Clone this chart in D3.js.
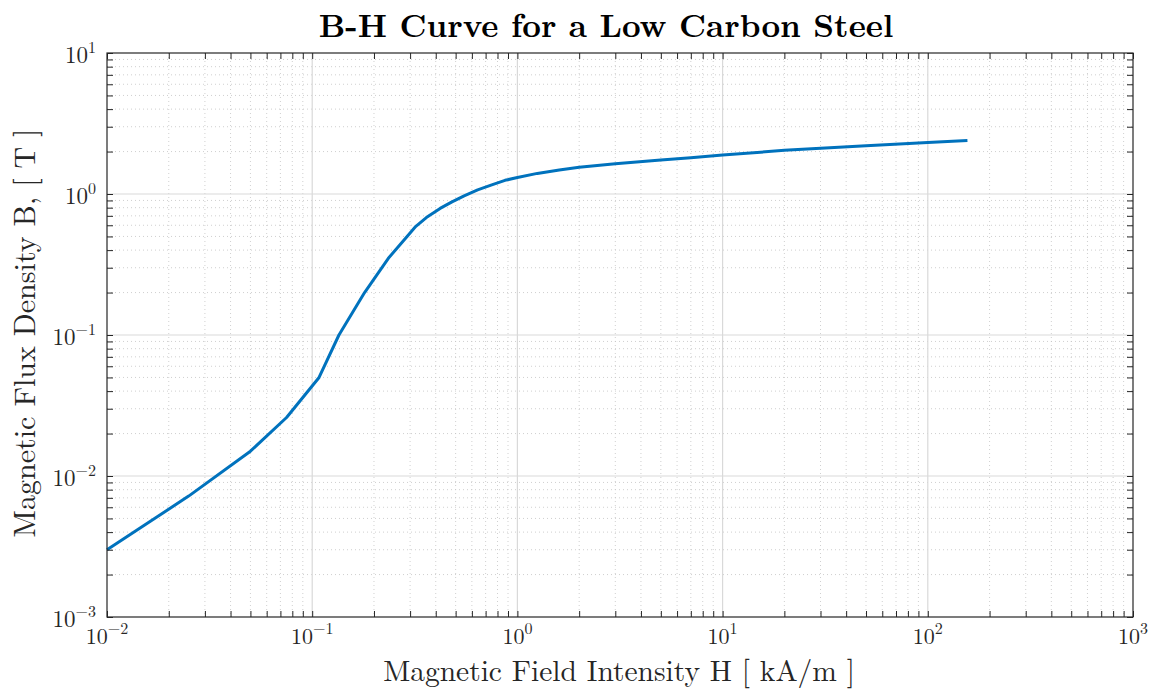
<!DOCTYPE html>
<html><head><meta charset="utf-8">
<script src="https://cdn.jsdelivr.net/npm/d3@7"></script>
<style>
body{margin:0;background:#fff;}
text{font-family:"Latin Modern Roman","Liberation Serif","Times New Roman",serif;fill:#262626;}
</style></head>
<body><svg id="c" width="1156" height="689"></svg>
<script>
const H = [0.01, 0.025, 0.05, 0.075, 0.108, 0.135, 0.18, 0.235, 0.29, 0.32, 0.36, 0.42, 0.48, 0.55, 0.64, 0.75, 0.87, 1.0, 1.25, 1.6, 2.0, 3.0, 5, 7, 10, 20, 50, 100, 156];
const B = [0.003, 0.0072, 0.015, 0.026, 0.05, 0.1, 0.2, 0.35, 0.5, 0.59, 0.68, 0.79, 0.88, 0.97, 1.07, 1.16, 1.25, 1.31, 1.4, 1.48, 1.55, 1.64, 1.74, 1.81, 1.89, 2.04, 2.2, 2.32, 2.4];
const xTickExps = [-2, -1, 0, 1, 2, 3];
const yTickExps = [-3, -2, -1, 0, 1];
const titleText = "B-H Curve for a Low Carbon Steel";
const xLabelText = "Magnetic Field Intensity H [ kA/m ]";
const yLabelText = "Magnetic Flux Density B, [ T ]";

const svg = d3.select("#c");
const L = 107, R = 1133, T = 53, Bm = 617;
const x = d3.scaleLog().domain([1e-2, 1e3]).range([L, R]);
const y = d3.scaleLog().domain([1e-3, 1e1]).range([Bm, T]);

const minorX = [], minorY = [];
for (let e = -2; e < 3; e++) for (let k = 2; k <= 9; k++) minorX.push(k * Math.pow(10, e));
for (let e = -3; e < 1; e++) for (let k = 2; k <= 9; k++) minorY.push(k * Math.pow(10, e));
const majorX = xTickExps.map(e => Math.pow(10, e));
const majorY = yTickExps.map(e => Math.pow(10, e));

const g = svg.append("g");
g.selectAll(".mgx").data(minorX).enter().append("line")
  .attr("x1", d => x(d)).attr("x2", d => x(d)).attr("y1", T).attr("y2", Bm)
  .attr("stroke", "#c4c4c4").attr("stroke-width", 0.8).attr("stroke-dasharray", "1,3");
g.selectAll(".mgy").data(minorY).enter().append("line")
  .attr("y1", d => y(d)).attr("y2", d => y(d)).attr("x1", L).attr("x2", R)
  .attr("stroke", "#c4c4c4").attr("stroke-width", 0.8).attr("stroke-dasharray", "1,3");
g.selectAll(".Mgx").data(majorX.slice(1, -1)).enter().append("line")
  .attr("x1", d => x(d)).attr("x2", d => x(d)).attr("y1", T).attr("y2", Bm)
  .attr("stroke", "#d9d9d9").attr("stroke-width", 1.2);
g.selectAll(".Mgy").data(majorY.slice(1, -1)).enter().append("line")
  .attr("y1", d => y(d)).attr("y2", d => y(d)).attr("x1", L).attr("x2", R)
  .attr("stroke", "#d9d9d9").attr("stroke-width", 1.2);

const pts = H.map((h, i) => [h, B[i]]);
svg.append("path").datum(pts)
  .attr("d", d3.line().x(d => x(d[0])).y(d => y(d[1])))
  .attr("fill", "none").attr("stroke", "#0072bd").attr("stroke-width", 3).attr("stroke-linejoin", "round");

const tl = 6;
const allX = majorX.concat(minorX), allY = majorY.concat(minorY);
function axisStyle(sel){ sel.select(".domain").remove(); sel.selectAll("line").attr("stroke", "#262626"); sel.selectAll("text").remove(); }
svg.append("g").attr("transform", `translate(0,${Bm})`).call(d3.axisBottom(x).tickValues(allX).tickSizeInner(-tl).tickSizeOuter(0)).call(axisStyle);
svg.append("g").attr("transform", `translate(0,${T})`).call(d3.axisTop(x).tickValues(allX).tickSizeInner(-tl).tickSizeOuter(0)).call(axisStyle);
svg.append("g").attr("transform", `translate(${L},0)`).call(d3.axisLeft(y).tickValues(allY).tickSizeInner(-tl).tickSizeOuter(0)).call(axisStyle);
svg.append("g").attr("transform", `translate(${R},0)`).call(d3.axisRight(y).tickValues(allY).tickSizeInner(-tl).tickSizeOuter(0)).call(axisStyle);
svg.append("rect").attr("x", L).attr("y", T).attr("width", R - L).attr("height", Bm - T)
  .attr("fill", "none").attr("stroke", "#262626").attr("stroke-width", 1.2);

function powLabel(sel, e){
  sel.append("tspan").text("10");
  sel.append("tspan").attr("dy", -10).attr("font-size", 16).text(e < 0 ? "\u2212" + (-e) : String(e));
}
xTickExps.forEach(e => {
  const t = svg.append("text").attr("x", x(Math.pow(10, e))).attr("y", 644).attr("text-anchor", "middle").attr("font-size", 22);
  powLabel(t, e);
});
yTickExps.forEach(e => {
  const t = svg.append("text").attr("x", 96).attr("y", y(Math.pow(10, e)) + 10).attr("text-anchor", "end").attr("font-size", 23);
  powLabel(t, e);
});

svg.append("text").attr("x", 606).attr("y", 37).attr("text-anchor", "middle")
  .attr("font-size", 32.5).attr("font-weight", "bold").style("fill", "#000").text(titleText);
svg.append("text").attr("x", 619).attr("y", 681).attr("text-anchor", "middle")
  .attr("font-size", 29.5).text(xLabelText);
svg.append("text").attr("transform", "translate(35,333) rotate(-90)").attr("text-anchor", "middle")
  .attr("font-size", 30).text(yLabelText);
</script></body></html>
